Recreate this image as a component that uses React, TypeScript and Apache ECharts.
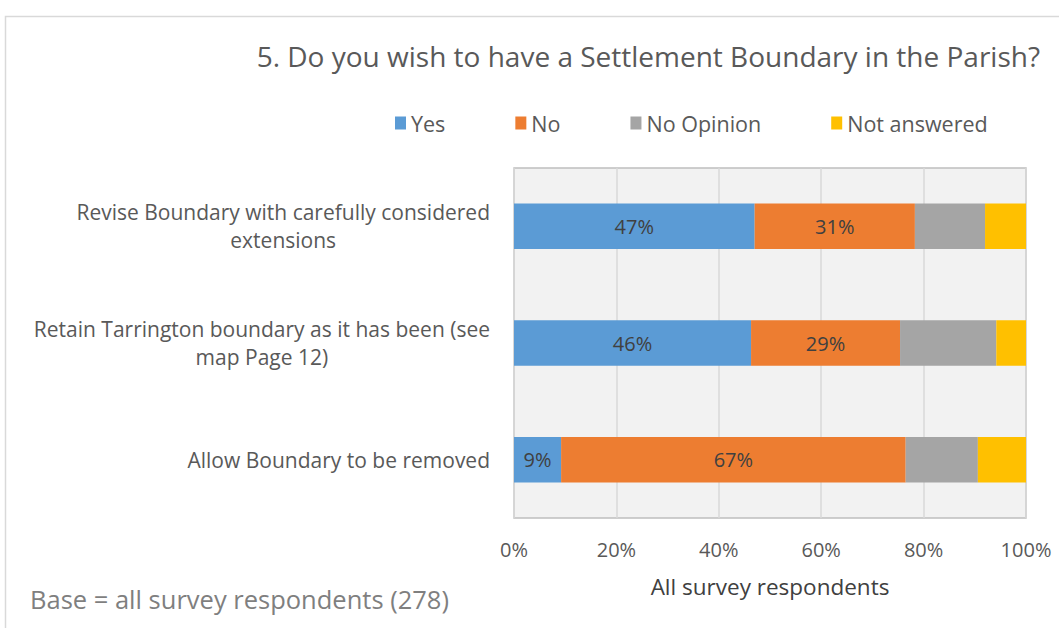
import React, { useEffect, useRef } from "react";
import * as echarts from "echarts";

const categories = [
  "Revise Boundary with carefully considered\nextensions",
  "Retain Tarrington boundary as it has been (see\nmap Page 12)",
  "Allow Boundary to be removed",
];
const seriesNames = ["Yes", "No", "No Opinion", "Not answered"];
const yesValues = [47.0, 46.3, 9.2];
const noValues = [31.3, 29.1, 67.3];
const noOpinionValues = [13.7, 18.8, 14.1];
const notAnsweredValues = [8.0, 5.8, 9.4];
const xTicks = [0, 20, 40, 60, 80, 100];
const colors = ["#5B9BD5", "#ED7D31", "#A5A5A5", "#FFC000"];

const FONT = "'Open Sans', sans-serif";

export default function App() {
  const ref = useRef<HTMLDivElement>(null);
  useEffect(() => {
    document.body.style.margin = "0";
    const chart = echarts.init(ref.current!, null, { renderer: "svg" });
    const values = [yesValues, noValues, noOpinionValues, notAnsweredValues];
    const series = seriesNames.map((name, i) => ({
      name,
      type: "bar",
      stack: "total",
      barWidth: "39%",
      data: values[i],
      itemStyle: { color: colors[i] },
      label: {
        show: i < 2,
        position: "inside",
        formatter: (p: any) => Math.round(p.value) + "%",
        color: "#404040",
        fontFamily: FONT,
        fontSize: 20,
      },
    }));
    chart.setOption({
      animation: false,
      backgroundColor: "#ffffff",
      textStyle: { fontFamily: FONT },
      title: {
        text: "5. Do you wish to have a Settlement Boundary in the Parish?",
        right: 14,
        top: 37,
        textStyle: { fontFamily: FONT, fontSize: 28, fontWeight: "normal", color: "#595959" },
      },
      legend: {
        data: seriesNames,
        left: 390,
        top: 107,
        itemWidth: 11,
        itemHeight: 13,
        itemGap: 70,
        icon: "rect",
        textStyle: { fontFamily: FONT, fontSize: 21.5, color: "#595959" },
      },
      graphic: [
        {
          type: "rect",
          shape: { x: 5.5, y: 16.5, width: 1100, height: 700 },
          style: { fill: "none", stroke: "#d9d9d9", lineWidth: 1.5 },
          silent: true,
        },
        {
          type: "text",
          left: 30,
          top: 586,
          style: {
            text: "Base = all survey respondents (278)",
            fontFamily: FONT,
            fontSize: 25.5,
            fill: "#7f7f7f",
          },
        },
      ],
      grid: {
        left: 514,
        right: 33,
        top: 168,
        bottom: 110,
        show: true,
        backgroundColor: "#f2f2f2",
        borderColor: "#bfbfbf",
        borderWidth: 1.5,
      },
      xAxis: {
        type: "value",
        min: 0,
        max: 100,
        interval: 20,
        name: "All survey respondents",
        nameLocation: "middle",
        nameGap: 57,
        nameTextStyle: { fontFamily: FONT, fontSize: 22.5, color: "#404040" },
        axisLine: { show: false },
        axisTick: { show: false },
        splitLine: { show: true, lineStyle: { color: "#d9d9d9", width: 1.5 } },
        axisLabel: {
          formatter: (v: number) => (xTicks.includes(v) ? v + "%" : ""),
          fontFamily: FONT,
          fontSize: 20,
          color: "#595959",
          margin: 21,
        },
      },
      yAxis: {
        type: "category",
        data: categories,
        inverse: true,
        axisLine: { show: false },
        axisTick: { show: false },
        axisLabel: {
          margin: 24,
          formatter: (v: string) =>
            v
              .split("\n")
              .map((l) => "{a|" + l + "}")
              .join("\n"),
          rich: {
            a: {
              align: "center",
              fontFamily: FONT,
              fontSize: 21,
              color: "#595959",
              lineHeight: 28,
            },
          },
        },
      },
      series,
    });
    return () => chart.dispose();
  }, []);
  return <div ref={ref} style={{ width: 1059, height: 628 }} />;
}
